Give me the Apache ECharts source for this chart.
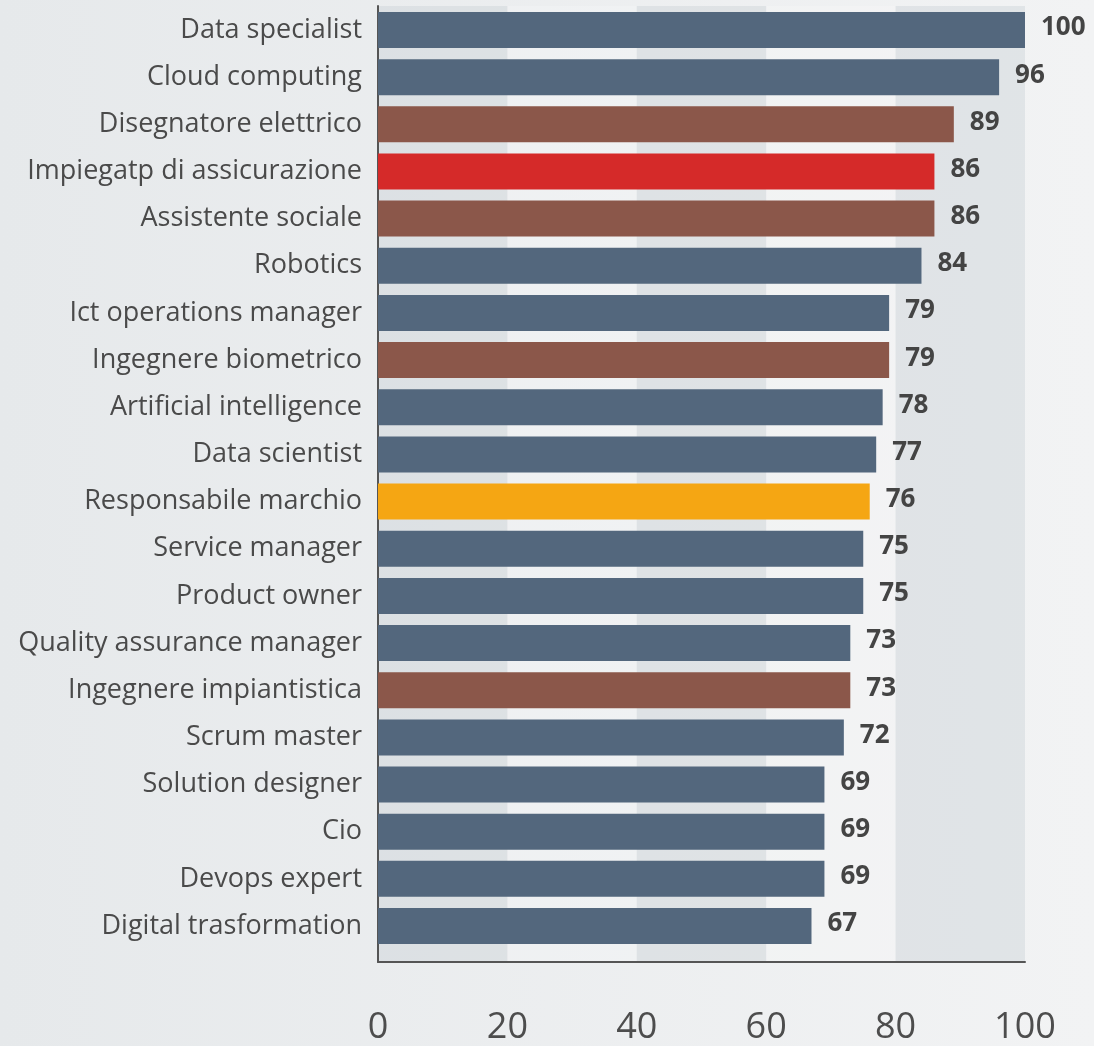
<!DOCTYPE html>
<html>
<head>
<meta charset="utf-8">
<script src="https://cdn.jsdelivr.net/npm/echarts@6/dist/echarts.min.js"></script>
<style>
html,body{margin:0;padding:0;}
#c{width:1094px;height:1046px;}
</style>
</head>
<body>
<div id="c"></div>
<script>
const categories = ["Data specialist","Cloud computing","Disegnatore elettrico","Impiegatp di assicurazione","Assistente sociale","Robotics","Ict operations manager","Ingegnere biometrico","Artificial intelligence","Data scientist","Responsabile marchio","Service manager","Product owner","Quality assurance manager","Ingegnere impiantistica","Scrum master","Solution designer","Cio","Devops expert","Digital trasformation"];
const values = [100,96,89,86,86,84,79,79,78,77,76,75,75,73,73,72,69,69,69,67];
const groups = ["tech","tech","brown","red","brown","tech","tech","brown","tech","tech","orange","tech","tech","tech","brown","tech","tech","tech","tech","tech"];
const groupColors = {tech:"#53677d", brown:"#8b574a", red:"#d52a29", orange:"#f5a613"};
const xTicks = [0,20,40,60,80,100];

const chart = echarts.init(document.getElementById('c'));
chart.setOption({
  backgroundColor: new echarts.graphic.LinearGradient(0,0,1,0,[{offset:0,color:'#e6e9eb'},{offset:1,color:'#f2f3f4'}]),
  animation:false,
  grid:[
    {left:378,right:69,top:6,bottom:83},
    {left:378,right:69,top:6.4,bottom:96.4}
  ],
  xAxis:[
    {gridIndex:0,type:'value',min:0,max:100,interval:20,
     axisLine:{show:true,lineStyle:{color:'#555',width:2}},
     axisTick:{show:false},
     splitLine:{show:false},
     splitArea:{show:true,areaStyle:{color:['rgba(200,208,213,0.4)','rgba(255,255,255,0.2)']}},
     axisLabel:{fontFamily:'Open Sans',fontSize:36,color:'#4d4d4d',margin:48,
       formatter:v=>xTicks.includes(v)?String(v):''}},
    {gridIndex:1,type:'value',min:0,max:100,show:false}
  ],
  yAxis:[
    {gridIndex:0,type:'value',min:0,max:1,axisLine:{show:true,lineStyle:{color:'#555',width:2}},
     axisTick:{show:false},axisLabel:{show:false},splitLine:{show:false}},
    {gridIndex:1,type:'category',data:categories,inverse:true,
     axisLine:{show:false},axisTick:{show:false},
     axisLabel:{fontFamily:'Open Sans',fontSize:27,color:'#4a4a4a',margin:16}}
  ],
  series:[{
    type:'bar',xAxisIndex:1,yAxisIndex:1,barWidth:36,
    data:values.map((v,i)=>({value:v,itemStyle:{color:groupColors[groups[i]]}})),
    label:{show:true,position:'right',distance:16,offset:[0,-2],fontFamily:'Open Sans',fontWeight:'bold',fontSize:26,color:'#444'}
  }]
});
</script>
</body>
</html>
